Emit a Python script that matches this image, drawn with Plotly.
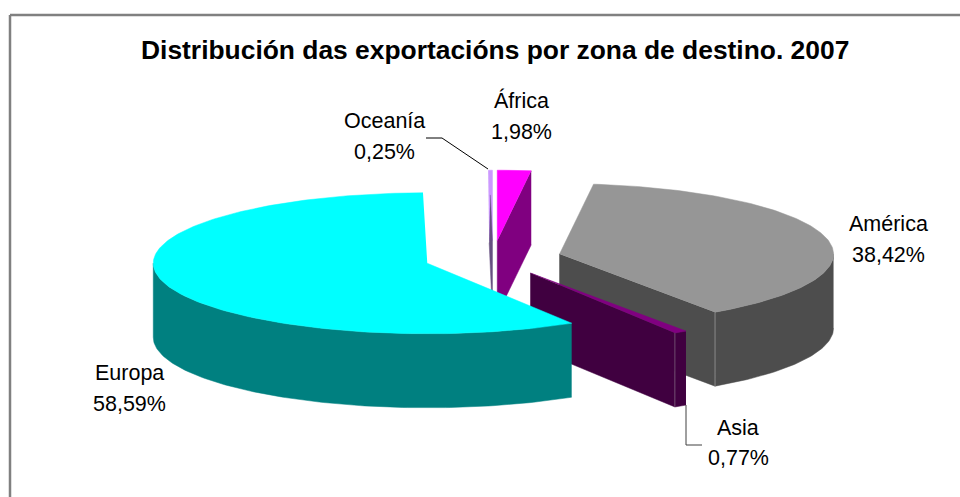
import numpy as np
import plotly.graph_objects as go

categories = ["África", "América", "Asia", "Europa", "Oceanía"]
shares = [1.98, 38.42, 0.77, 58.59, 0.25]
title_text = "Distribución das exportacións por zona de destino. 2007"

top_colors = ["#FF00FF", "#969696", "#800080", "#00FFFF", "#CC99FF"]
side_colors = ["#800080", "#4D4D4D", "#400040", "#008080", "#665080"]
seam_colors = [None, "#8A8A8A", "#6E4A6E", None, None]
draw_order = [4, 0, 1, 2, 3]

# label line positions (centre x, first line y, second line y)
label_pos = [(521.5, 100.5, 131.5), (888, 224, 255), (738, 428, 458), (129, 373, 404), (384, 121, 152)]

CX, CY = 493.0, 258.3
RX, RY = 274.0, 70.5
DEPTH = 74.0
EXPLODE = 0.25
THIN_DEG = 1.0  # slices narrower than this rasterise as a column with a dark core


def pt(vx, vy, deg):
    r = np.radians(deg)
    return vx + RX * np.sin(r), vy - RY * np.cos(r)


def poly(fig, xs, ys, color):
    fig.add_trace(go.Scatter(x=list(xs), y=list(ys), mode="lines", fill="toself",
                             fillcolor=color, line=dict(color=color, width=0.5),
                             hoverinfo="skip", showlegend=False))


fig = go.Figure()
edges = np.cumsum([0] + shares) / sum(shares) * 360

for i in draw_order:
    a0, a1 = edges[i], edges[i + 1]
    mid = np.radians((a0 + a1) / 2)
    vx = CX + EXPLODE * RX * np.sin(mid)
    vy = CY - EXPLODE * RY * np.cos(mid)
    side = side_colors[i]

    if a1 - a0 < THIN_DEG:
        x0, y0 = pt(vx, vy, a0)
        x1, y1 = pt(vx, vy, a1)
        poly(fig, [x0, x1, vx, x0 + 1], [y0, y1, vy, vy], top_colors[i])
        xm = (x0 + x1) / 2
        poly(fig, [xm, vx, vx, x0 + 1], [y0 + DEPTH / 3, vy, vy + DEPTH, vy + 2], side)
        continue

    # cut faces
    if 180 < a0 < 360:
        x, y = pt(vx, vy, a0)
        poly(fig, [x, vx, vx, x], [y, vy, vy + DEPTH, y + DEPTH], side)
    if 0 < a1 < 180:
        x, y = pt(vx, vy, a1)
        poly(fig, [x, vx, vx, x], [y, vy, vy + DEPTH, y + DEPTH], side)
    # outer wall
    w0, w1 = max(a0, 90), min(a1, 270)
    if w1 > w0:
        th = np.arange(w0, w1 + 0.5, 1.0)
        th[-1] = w1
        ax, ay = pt(vx, vy, th)
        poly(fig, np.r_[ax, ax[::-1]], np.r_[ay, ay[::-1] + DEPTH], side)
    # seam between wall and cut face
    if seam_colors[i]:
        x, y = pt(vx, vy, a1)
        fig.add_trace(go.Scatter(x=[x, x], y=[y, y + DEPTH], mode="lines",
                                 line=dict(color=seam_colors[i], width=1),
                                 hoverinfo="skip", showlegend=False))
    # top face
    th = np.arange(a0, a1 + 0.5, 1.0)
    th = np.r_[th[th < a1], a1]
    ax, ay = pt(vx, vy, th)
    poly(fig, np.r_[vx, ax], np.r_[vy, ay], top_colors[i])

# leader lines
fig.add_trace(go.Scatter(x=[426, 442, 488], y=[138, 138, 169], mode="lines",
                         line=dict(color="#000000", width=1), hoverinfo="skip", showlegend=False))
fig.add_trace(go.Scatter(x=[686, 686, 702], y=[405, 445, 445], mode="lines",
                         line=dict(color="#404040", width=1), hoverinfo="skip", showlegend=False))

annotations = [dict(x=495, y=49.5, xref="x", yref="y", text="<b>" + title_text + "</b>", showarrow=False,
                    font=dict(family="Liberation Sans", size=26.4, color="#000000"))]
for name, val, (lx, y1, y2) in zip(categories, shares, label_pos):
    for txt, ly in ((name, y1), (f"{val:.2f}%".replace(".", ","), y2)):
        annotations.append(dict(x=lx, y=ly, xref="x", yref="y", text=txt, showarrow=False,
                                font=dict(family="Liberation Sans", size=21.5, color="#000000")))

fig.update_layout(
    width=960, height=497, margin=dict(l=0, r=0, t=0, b=0), showlegend=False,
    paper_bgcolor="#FFFFFF", plot_bgcolor="#FFFFFF",
    xaxis=dict(range=[0, 960], visible=False, fixedrange=True),
    yaxis=dict(range=[497, 0], visible=False, fixedrange=True),
    annotations=annotations,
    shapes=[
        dict(type="line", xref="x", yref="y", x0=10, x1=960, y0=15, y1=15, line=dict(color="#808080", width=2.5)),
        dict(type="line", xref="x", yref="y", x0=10, x1=10, y0=15, y1=497, line=dict(color="#808080", width=2.5)),
    ],
)
fig.write_html("out.html", config={"displayModeBar": False},
               post_script="document.body.style.margin='0';document.body.style.overflow='hidden';")
